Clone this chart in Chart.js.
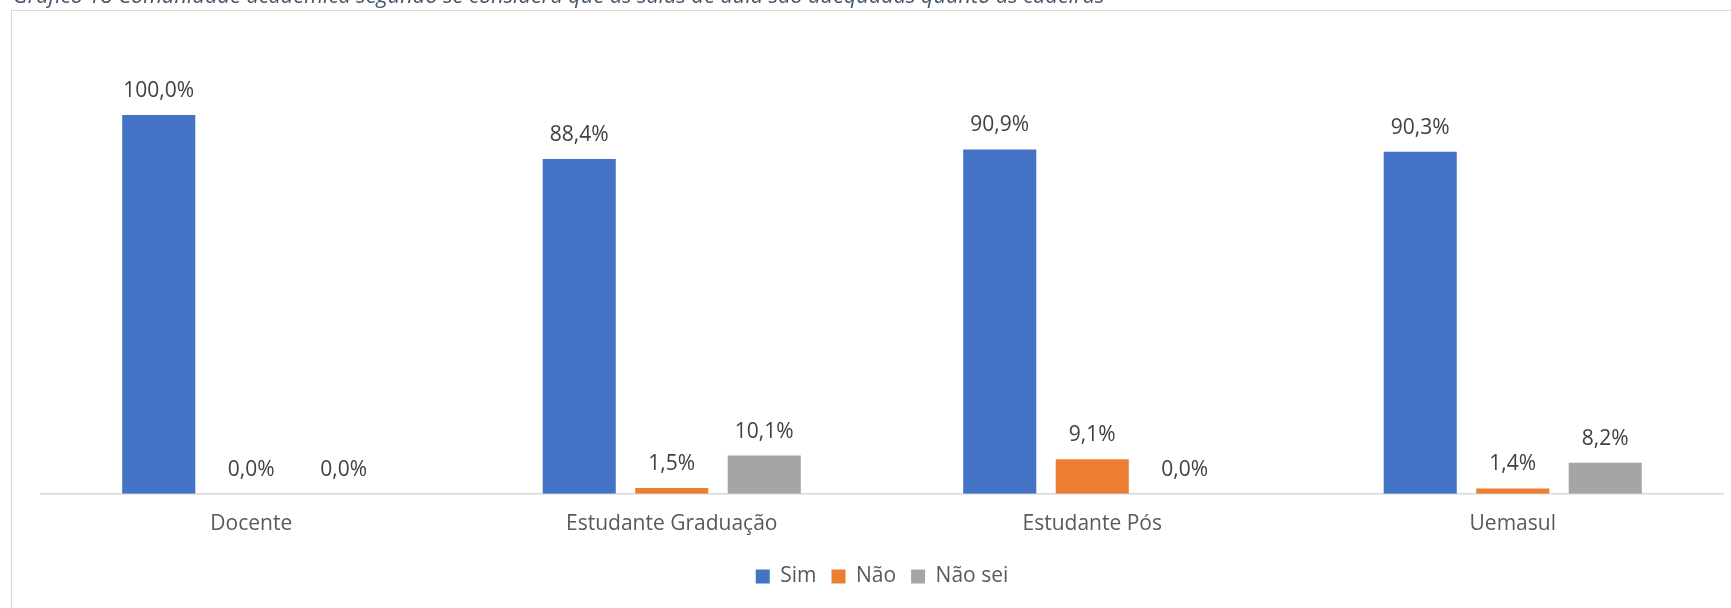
<!DOCTYPE html>
<html>
<head>
<meta charset="utf-8">
<script src="https://cdn.jsdelivr.net/npm/chart.js@4/dist/chart.umd.min.js"></script>
<style>
  html, body { margin: 0; padding: 0; background: #ffffff; overflow: hidden; }
  #wrap { position: relative; width: 1731px; height: 608px; overflow: hidden; background: #fff; }
  #c { position: absolute; left: 0; top: 0; }
  #frame { position: absolute; left: 11px; top: 10px; width: 1740px; height: 620px;
           border-left: 1.5px solid #D9D9D9; border-top: 1.5px solid #D9D9D9; pointer-events: none; }
  #title { position: absolute; left: 13px; top: -15px; white-space: nowrap;
           font-family: "Open Sans", sans-serif; font-style: italic; font-size: 20px; line-height: 20px;
           color: #44546A; }
</style>
</head>
<body>
<div id="wrap">
  <canvas id="c" width="1731" height="608"></canvas>
  <div id="frame"></div>
  <div id="title">Gráfico 18 Comunidade acadêmica segundo se considera que as salas de aula são adequadas quanto às cadeiras</div>
</div>
<script>
const categories = ["Docente", "Estudante Graduação", "Estudante Pós", "Uemasul"];
const seriesNames = ["Sim", "Não", "Não sei"];
const sim    = [100.0, 88.4, 90.9, 90.3];
const nao    = [0.0, 1.5, 9.1, 1.4];
const naoSei = [0.0, 10.1, 0.0, 8.2];
const colors = ["#4472C4", "#ED7D31", "#A5A5A5"];

// fit title to its measured width in the reference
(function(){
  const t = document.getElementById('title');
  const target = 1092;
  const w = t.getBoundingClientRect().width;
  if (w > 0) t.style.fontSize = (20 * target / w).toFixed(2) + 'px';
})();

const fmt = v => v.toFixed(1).replace('.', ',') + '%';

const valueLabels = {
  id: 'valueLabels',
  afterDatasetsDraw(chart) {
    const ctx = chart.ctx;
    ctx.save();
    ctx.font = '21px "Open Sans", sans-serif';
    ctx.fillStyle = '#404040';
    ctx.textAlign = 'center';
    ctx.textBaseline = 'middle';
    chart.data.datasets.forEach((ds, i) => {
      const meta = chart.getDatasetMeta(i);
      meta.data.forEach((bar, j) => {
        ctx.fillText(fmt(ds.data[j]), bar.x, bar.y - 24);
      });
    });
    ctx.restore();
  }
};

new Chart(document.getElementById('c'), {
  type: 'bar',
  data: {
    labels: categories,
    datasets: [
      { label: seriesNames[0], data: sim,    backgroundColor: colors[0] },
      { label: seriesNames[1], data: nao,    backgroundColor: colors[1] },
      { label: seriesNames[2], data: naoSei, backgroundColor: colors[2] }
    ]
  },
  options: {
    responsive: false,
    animation: false,
    events: [],
    layout: { padding: { left: 41, right: 8, top: 115, bottom: 11 } },
    datasets: { bar: { categoryPercentage: 0.66, barPercentage: 0.79 } },
    scales: {
      x: {
        grid: { display: false, drawTicks: false },
        border: { display: true, color: '#D9D9D9', width: 1.5 },
        ticks: { color: '#595959', font: { family: '"Open Sans", sans-serif', size: 21 }, padding: 18 },
        afterFit: s => { s.height -= 4; }
      },
      y: { display: false, min: 0, max: 100 }
    },
    plugins: {
      legend: {
        position: 'bottom',
        labels: {
          color: '#595959',
          font: { family: '"Open Sans", sans-serif', size: 21 },
          boxWidth: 14, boxHeight: 14, padding: 15
        }
      },
      tooltip: { enabled: false },
      title: { display: false }
    }
  },
  plugins: [valueLabels]
});
</script>
</body>
</html>
